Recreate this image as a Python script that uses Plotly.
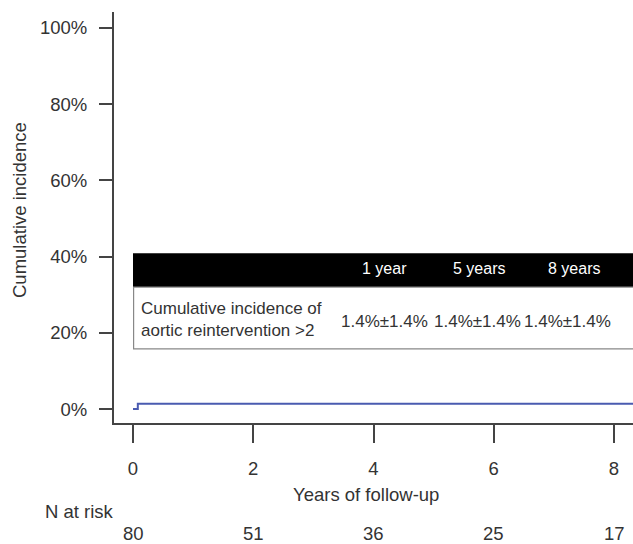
import plotly.graph_objects as go

# ---- data ----
times = [0, 0.08, 8.5]
incidence = [0, 1.4, 1.4]
y_ticks = [0, 20, 40, 60, 80, 100]
y_tick_labels = ["0%", "20%", "40%", "60%", "80%", "100%"]
x_ticks = [0, 2, 4, 6, 8]
n_at_risk = [80, 51, 36, 25, 17]
table_cols = ["1 year", "5 years", "8 years"]
table_col_x = [4.18, 5.75, 7.33]
table_vals = ["1.4%±1.4%", "1.4%±1.4%", "1.4%±1.4%"]
table_val_x = [4.18, 5.73, 7.22]
table_label = "Cumulative incidence of<br>aortic reintervention >2"

W, H = 633, 544
L, R, T, B = 114, 0, 12, 121
plot_h = H - T - B
FONT = "Liberation Sans, Arial, sans-serif"
TXT = "#333333"
AX = "#444444"
FS = 18.5


def py(pix):
    return (H - B - pix) / plot_h


def px(pix):
    return (pix - L) / (W - L - R)


fig = go.Figure()
fig.add_trace(go.Scatter(x=times, y=incidence, mode="lines",
                         line=dict(color="#4a5bb0", width=2, shape="hv"),
                         showlegend=False, hoverinfo="skip"))

shapes = [
    dict(type="rect", xref="x", yref="y", x0=0, x1=9, y0=32.0, y1=40.9,
         fillcolor="black", line=dict(width=0), layer="above"),
    dict(type="rect", xref="x", yref="y", x0=0.01, x1=9, y0=15.8, y1=32.0,
         fillcolor="white", line=dict(color="#888888", width=1.2), layer="above"),
]

ann = []
for c, cx in zip(table_cols, table_col_x):
    ann.append(dict(x=cx, y=36.8, xref="x", yref="y", text=c, showarrow=False,
                    xanchor="center",
                    font=dict(family=FONT, size=16, color="white")))
for v, vx in zip(table_vals, table_val_x):
    ann.append(dict(x=vx, y=22.9, xref="x", yref="y", text=v, showarrow=False,
                    xanchor="center",
                    font=dict(family=FONT, size=17, color=TXT)))
ann.append(dict(x=0.1, y=23.5, xref="x", yref="y", text=table_label, showarrow=False,
                xanchor="left", align="left",
                font=dict(family=FONT, size=17, color=TXT)))
for xv, n in zip(x_ticks, n_at_risk):
    ann.append(dict(x=xv, y=py(533), xref="x", yref="paper", text=str(n),
                    showarrow=False, xanchor="center", yanchor="middle",
                    font=dict(family=FONT, size=FS, color=TXT)))
ann.append(dict(x=px(79), y=py(511), xref="paper", yref="paper",
                text="N at risk", showarrow=False, xanchor="center", yanchor="middle",
                font=dict(family=FONT, size=FS, color=TXT)))
ann.append(dict(x=px(366), y=py(494), xref="paper", yref="paper",
                text="Years of follow-up", showarrow=False,
                xanchor="center", yanchor="middle",
                font=dict(family=FONT, size=FS, color=TXT)))
ann.append(dict(x=px(19), y=py(210), xref="paper", yref="paper",
                text="Cumulative incidence", textangle=-90, showarrow=False,
                xanchor="center", yanchor="middle",
                font=dict(family=FONT, size=FS, color=TXT)))

fig.update_layout(
    width=W, height=H,
    margin=dict(l=L, r=R, t=T, b=B, pad=0),
    paper_bgcolor="white", plot_bgcolor="white",
    shapes=shapes, annotations=ann,
    font=dict(family=FONT, size=FS, color=TXT),
    xaxis=dict(range=[-0.316, 8.316], tickvals=x_ticks,
               ticktext=[str(v) for v in x_ticks],
               showgrid=False, zeroline=False, showline=True,
               linecolor=AX, linewidth=2, ticks="outside", ticklen=18,
               tickwidth=2, tickcolor=AX, ticklabelstandoff=10,
               tickfont=dict(family=FONT, size=FS, color=TXT), fixedrange=True),
    yaxis=dict(range=[-3.67, 104.2], tickvals=y_ticks, ticktext=y_tick_labels,
               showgrid=False, zeroline=False, showline=True,
               linecolor=AX, linewidth=2, ticks="outside", ticklen=13,
               tickwidth=2, tickcolor=AX, ticklabelstandoff=8,
               tickfont=dict(family=FONT, size=FS, color=TXT), fixedrange=True),
)

fig.write_html("out.html",
               config={"displayModeBar": False},
               post_script="document.body.style.margin='0';"
                           "document.body.style.overflow='hidden';")
